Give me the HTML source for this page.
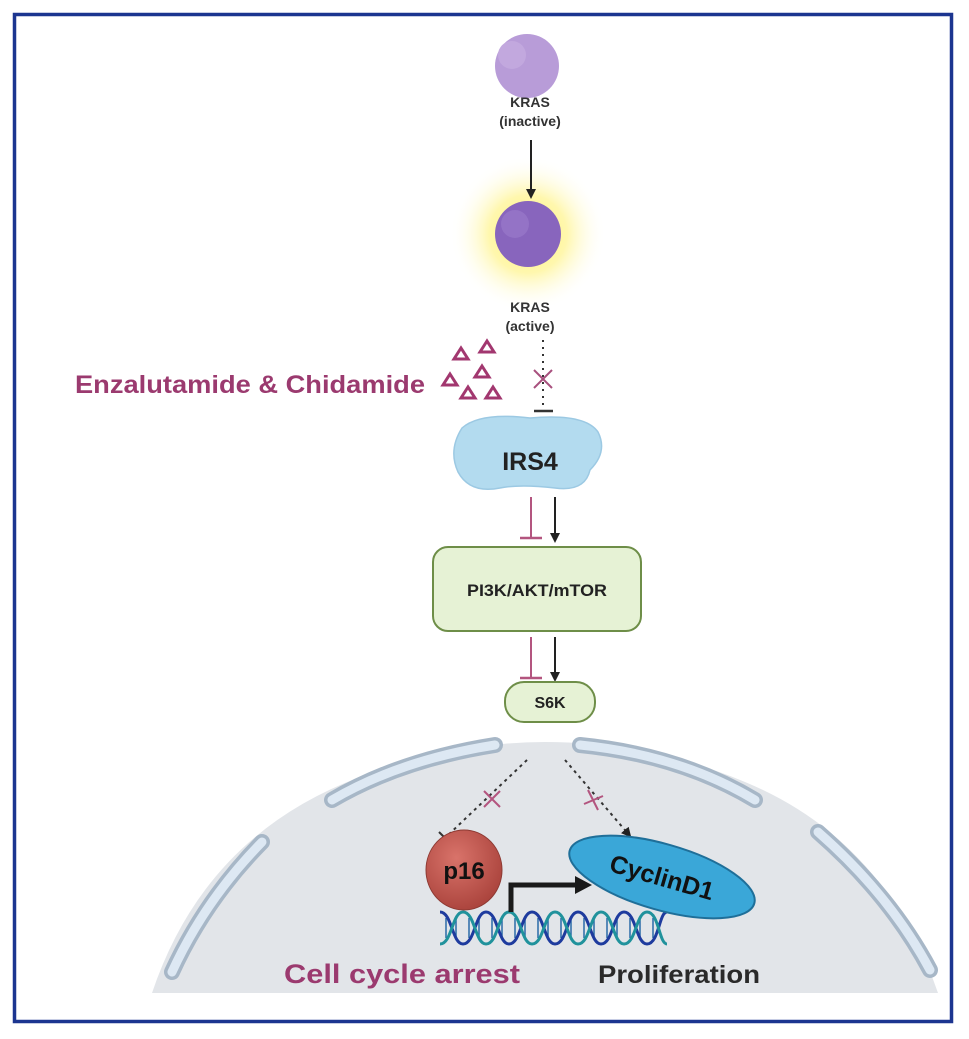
<!DOCTYPE html>
<html><head><meta charset="utf-8"><style>
html,body{margin:0;padding:0;background:#fff}
svg{display:block}
text{font-family:"Liberation Sans",Arial,sans-serif;font-weight:bold}
</style></head><body>
<svg width="969" height="1039" viewBox="0 0 969 1039" xmlns="http://www.w3.org/2000/svg">
<defs>
<radialGradient id="glow" cx="0.5" cy="0.5" r="0.5">
<stop offset="0" stop-color="#fff46a" stop-opacity="1"/>
<stop offset="0.5" stop-color="#fff59a" stop-opacity="0.8"/>
<stop offset="1" stop-color="#ffffff" stop-opacity="0"/>
</radialGradient>
<radialGradient id="p16g" cx="0.4" cy="0.35" r="0.7">
<stop offset="0" stop-color="#d9736a"/><stop offset="1" stop-color="#a9423b"/>
</radialGradient>
<marker id="ah" markerWidth="10" markerHeight="10" refX="8" refY="5" orient="auto" markerUnits="userSpaceOnUse">
<path d="M0,0 L10,5 L0,10 Z" fill="#222"/></marker>
</defs>
<rect x="14.5" y="14.5" width="937" height="1007" fill="#fff" stroke="#1c3590" stroke-width="3.5"/>

<path d="M152,993 Q205,835 360,777 Q455,742 545,742 Q650,742 745,782 Q885,840 938,993 Z" fill="#e2e5e9"/>
<g fill="none" stroke-linecap="round">
<g stroke="#a7b7c7" stroke-width="16">
<path d="M332,800 Q400,760 495,745"/>
<path d="M580,745 Q680,755 755,800"/>
<path d="M262,842 Q205,900 172,972"/>
<path d="M818,832 Q890,895 930,970"/>
</g>
<g stroke="#dde8f3" stroke-width="9">
<path d="M332,800 Q400,760 495,745"/>
<path d="M580,745 Q680,755 755,800"/>
<path d="M262,842 Q205,900 172,972"/>
<path d="M818,832 Q890,895 930,970"/>
</g>
</g>

<circle cx="527" cy="66" r="32" fill="#b89cd8"/>
<circle cx="512" cy="55" r="14" fill="#c2a8de"/>
<text x="530" y="107" font-size="14" fill="#333" text-anchor="middle">KRAS</text>
<text x="530" y="126" font-size="14" fill="#333" text-anchor="middle">(inactive)</text>

<circle cx="528" cy="234" r="78" fill="url(#glow)"/>
<circle cx="528" cy="234" r="33" fill="#8865bd"/>
<circle cx="515" cy="224" r="14" fill="#9473c6"/>
<line x1="531" y1="140" x2="531" y2="197" stroke="#222" stroke-width="2" marker-end="url(#ah)"/>
<text x="530" y="312" font-size="14" fill="#333" text-anchor="middle">KRAS</text>
<text x="530" y="331" font-size="14" fill="#333" text-anchor="middle">(active)</text>

<line x1="543" y1="340" x2="543" y2="405" stroke="#333" stroke-width="2" stroke-dasharray="2,5"/>
<line x1="534" y1="370" x2="552" y2="388" stroke="#a8507e" stroke-width="2"/>
<line x1="552" y1="370" x2="534" y2="388" stroke="#a8507e" stroke-width="2"/>
<line x1="534" y1="411" x2="553" y2="411" stroke="#333" stroke-width="2.5"/>

<g fill="none" stroke="#a2376f" stroke-width="3">
<path d="M487,341 L494,352 L480,352 Z"/>
<path d="M461,348 L468,359 L454,359 Z"/>
<path d="M482,366 L489,377 L475,377 Z"/>
<path d="M450,374 L457,385 L443,385 Z"/>
<path d="M468,387 L475,398 L461,398 Z"/>
<path d="M493,387 L500,398 L486,398 Z"/>
</g>
<text x="75" y="393" font-size="25" fill="#9b3a6f" textLength="350" lengthAdjust="spacingAndGlyphs">Enzalutamide &amp; Chidamide</text>

<path d="M462,428 Q480,412 530,418 Q585,413 598,432 Q608,452 590,470 Q585,492 555,488 Q520,484 500,488 Q470,494 458,472 Q448,450 462,428 Z" fill="#b3dbef" stroke="#9cc9e3" stroke-width="1.5"/>
<text x="530" y="470" font-size="25" fill="#222" text-anchor="middle">IRS4</text>

<line x1="531" y1="497" x2="531" y2="537" stroke="#b3557f" stroke-width="2"/>
<line x1="520" y1="538" x2="542" y2="538" stroke="#b3557f" stroke-width="2.5"/>
<line x1="555" y1="497" x2="555" y2="541" stroke="#222" stroke-width="2" marker-end="url(#ah)"/>

<rect x="433" y="547" width="208" height="84" rx="15" fill="#e6f2d5" stroke="#6e8e48" stroke-width="2"/>
<text x="537" y="596" font-size="17" fill="#222" text-anchor="middle" textLength="140" lengthAdjust="spacingAndGlyphs">PI3K/AKT/mTOR</text>

<line x1="531" y1="637" x2="531" y2="677" stroke="#b3557f" stroke-width="2"/>
<line x1="520" y1="678" x2="542" y2="678" stroke="#b3557f" stroke-width="2.5"/>
<line x1="555" y1="637" x2="555" y2="680" stroke="#222" stroke-width="2" marker-end="url(#ah)"/>

<rect x="505" y="682" width="90" height="40" rx="19" fill="#e6f2d5" stroke="#6e8e48" stroke-width="2"/>
<text x="550" y="708" font-size="16" fill="#222" text-anchor="middle">S6K</text>

<line x1="527" y1="760" x2="445" y2="838" stroke="#333" stroke-width="2" stroke-dasharray="3,4"/>
<line x1="439" y1="832" x2="451" y2="844" stroke="#333" stroke-width="2"/>
<line x1="565" y1="760" x2="630" y2="836" stroke="#333" stroke-width="2" stroke-dasharray="3,4" marker-end="url(#ah)"/>
<g stroke="#b3557f" stroke-width="2">
<line x1="484" y1="791" x2="500" y2="807"/><line x1="500" y1="791" x2="484" y2="807"/>
<line x1="588" y1="790" x2="598" y2="810"/><line x1="584" y1="804" x2="603" y2="796"/>
</g>

<g stroke="#2a6aa8" stroke-width="1.5">
<line x1="446" y1="918" x2="446" y2="938"/><line x1="456" y1="918" x2="456" y2="938"/>
<line x1="469" y1="918" x2="469" y2="938"/><line x1="479" y1="918" x2="479" y2="938"/>
<line x1="492" y1="918" x2="492" y2="938"/><line x1="502" y1="918" x2="502" y2="938"/>
<line x1="515" y1="918" x2="515" y2="938"/><line x1="525" y1="918" x2="525" y2="938"/>
<line x1="538" y1="918" x2="538" y2="938"/><line x1="548" y1="918" x2="548" y2="938"/>
<line x1="561" y1="918" x2="561" y2="938"/><line x1="571" y1="918" x2="571" y2="938"/>
<line x1="584" y1="918" x2="584" y2="938"/><line x1="594" y1="918" x2="594" y2="938"/>
<line x1="607" y1="918" x2="607" y2="938"/><line x1="617" y1="918" x2="617" y2="938"/>
<line x1="630" y1="918" x2="630" y2="938"/><line x1="640" y1="918" x2="640" y2="938"/>
<line x1="653" y1="918" x2="653" y2="938"/>
</g>
<g fill="none" stroke-width="3">
<path d="M440,912 C452,912 452,944 463,944 C475,944 475,912 486,912 C498,912 498,944 509,944 C521,944 521,912 532,912 C544,912 544,944 555,944 C567,944 567,912 578,912 C590,912 590,944 601,944 C613,944 613,912 624,912 C636,912 636,944 647,944 C659,944 659,912 667,912" stroke="#1e3b9e"/>
<path d="M440,944 C452,944 452,912 463,912 C475,912 475,944 486,944 C498,944 498,912 509,912 C521,912 521,944 532,944 C544,944 544,912 555,912 C567,912 567,944 578,944 C590,944 590,912 601,912 C613,912 613,944 624,944 C636,944 636,912 647,912 C659,912 659,944 667,944" stroke="#20929c"/>
</g>

<ellipse cx="464" cy="870" rx="38" ry="40" fill="url(#p16g)" stroke="#8d3a33" stroke-width="1"/>
<text x="464" y="879" font-size="24" fill="#111" text-anchor="middle">p16</text>

<path d="M511,912 L511,885 L578,885" fill="none" stroke="#1a1a1a" stroke-width="5"/>
<path d="M575,876 L592,885 L575,894 Z" fill="#1a1a1a"/>

<g transform="rotate(16 662 877)">
<ellipse cx="662" cy="877" rx="96" ry="33" fill="#3aa7d8" stroke="#1f6f99" stroke-width="2"/>
<text x="662" y="886" font-size="25" fill="#111" text-anchor="middle">CyclinD1</text>
</g>

<text x="284" y="983" font-size="27" fill="#9b3a6f" textLength="236" lengthAdjust="spacingAndGlyphs">Cell cycle arrest</text>
<text x="598" y="983" font-size="25" fill="#2a2a2a" textLength="162" lengthAdjust="spacingAndGlyphs">Proliferation</text>
</svg>
</body></html>
